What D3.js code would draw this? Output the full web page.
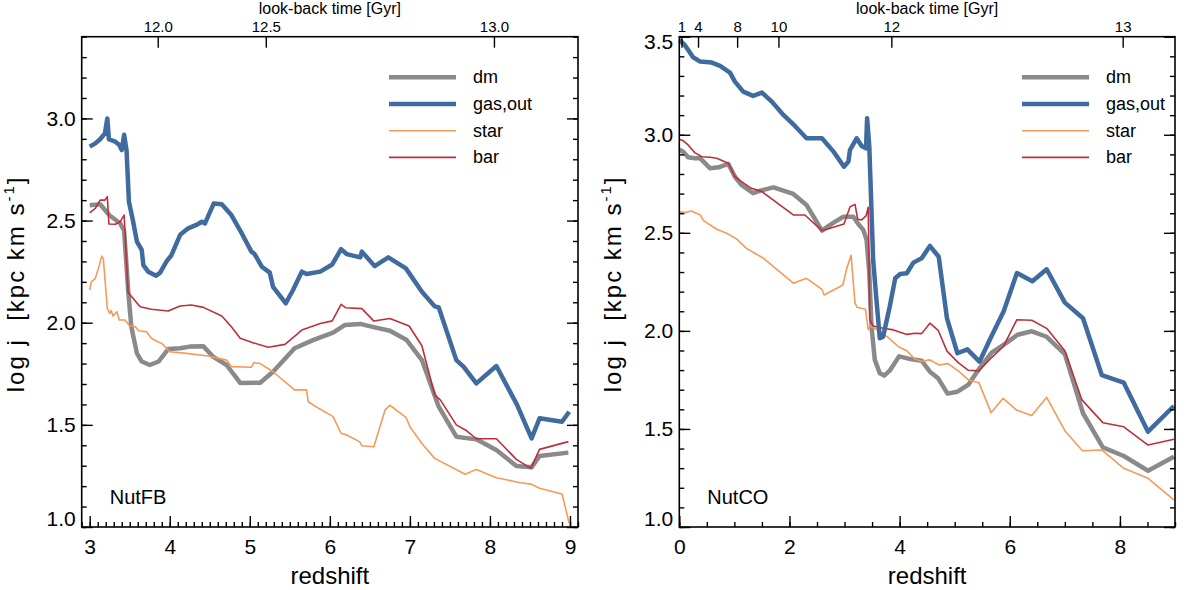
<!DOCTYPE html>
<html><head><meta charset="utf-8">
<script src="https://cdn.jsdelivr.net/npm/d3@7"></script>
<style>
html,body{margin:0;padding:0;background:#fff;}
svg text{font-family:"Liberation Sans",Arial,Helvetica,sans-serif;fill:#000;}
</style></head>
<body>
<svg id="chart" width="1186" height="590"></svg>
<script>
// ---------------- data ----------------
// NutFB panel: [redshift, log j]
const fbDm = [[3.0,2.575],[3.13,2.58],[3.25,2.525],[3.38,2.487],[3.43,2.45],[3.48,2.16],[3.52,1.98],[3.59,1.85],[3.65,1.81],[3.75,1.793],[3.86,1.81],[3.98,1.871],[4.13,1.875],[4.25,1.883],[4.42,1.885],[4.54,1.834],[4.71,1.793],[4.88,1.705],[5.13,1.706],[5.29,1.76],[5.56,1.875],[5.79,1.915],[6.04,1.951],[6.19,1.989],[6.38,1.994],[6.56,1.977],[6.75,1.961],[6.96,1.915],[7.15,1.817],[7.36,1.589],[7.58,1.442],[7.83,1.429],[8.08,1.377],[8.33,1.299],[8.52,1.292],[8.62,1.348],[8.98,1.364]];
const fbGas = [[3.0,2.862],[3.07,2.878],[3.13,2.898],[3.19,2.927],[3.22,3.0],[3.24,2.898],[3.32,2.886],[3.37,2.87],[3.40,2.845],[3.43,2.92],[3.46,2.845],[3.49,2.592],[3.54,2.50],[3.59,2.397],[3.65,2.356],[3.67,2.282],[3.73,2.25],[3.83,2.23],[3.88,2.245],[3.96,2.30],[4.02,2.33],[4.13,2.43],[4.23,2.462],[4.34,2.48],[4.40,2.494],[4.44,2.486],[4.55,2.584],[4.65,2.58],[4.77,2.527],[4.90,2.437],[5.02,2.348],[5.06,2.336],[5.15,2.274],[5.25,2.245],[5.29,2.176],[5.45,2.095],[5.54,2.16],[5.65,2.25],[5.71,2.238],[5.88,2.25],[6.03,2.285],[6.14,2.36],[6.21,2.336],[6.38,2.32],[6.40,2.348],[6.56,2.277],[6.73,2.32],[6.95,2.266],[7.15,2.152],[7.31,2.08],[7.36,2.075],[7.58,1.817],[7.67,1.785],[7.83,1.703],[8.08,1.788],[8.34,1.597],[8.52,1.434],[8.62,1.532],[8.90,1.515],[8.99,1.564]];
const fbStar = [[3.0,2.16],[3.02,2.20],[3.07,2.217],[3.11,2.266],[3.15,2.326],[3.17,2.315],[3.22,2.07],[3.25,2.046],[3.27,2.059],[3.29,2.033],[3.34,2.054],[3.37,2.013],[3.44,2.013],[3.50,1.984],[3.57,1.98],[3.61,1.961],[3.71,1.956],[3.77,1.924],[3.86,1.904],[3.90,1.899],[4.00,1.858],[4.21,1.85],[4.48,1.837],[4.71,1.817],[4.77,1.785],[5.02,1.782],[5.05,1.804],[5.13,1.80],[5.29,1.76],[5.56,1.671],[5.71,1.671],[5.73,1.613],[5.86,1.581],[6.04,1.54],[6.14,1.459],[6.21,1.45],[6.37,1.418],[6.40,1.398],[6.55,1.393],[6.69,1.573],[6.75,1.596],[6.95,1.537],[7.00,1.491],[7.15,1.409],[7.31,1.336],[7.69,1.258],[7.83,1.282],[8.08,1.241],[8.38,1.217],[8.51,1.21],[8.62,1.19],[8.90,1.162],[8.99,1.018]];
const fbBar = [[3.0,2.538],[3.07,2.56],[3.13,2.60],[3.19,2.60],[3.22,2.617],[3.24,2.483],[3.32,2.482],[3.38,2.494],[3.43,2.527],[3.48,2.148],[3.63,2.078],[3.77,2.066],[3.98,2.057],[4.13,2.082],[4.27,2.087],[4.42,2.075],[4.65,2.033],[4.77,1.98],[4.88,1.924],[5.04,1.902],[5.23,1.88],[5.44,1.894],[5.65,1.964],[5.88,1.996],[6.03,2.009],[6.14,2.09],[6.20,2.073],[6.40,2.069],[6.55,2.008],[6.75,2.021],[6.99,1.984],[7.15,1.887],[7.31,1.646],[7.38,1.622],[7.58,1.50],[7.71,1.471],[7.83,1.432],[8.08,1.432],[8.33,1.331],[8.51,1.287],[8.62,1.38],[8.98,1.418]];

// NutCO panel
const coDm = [[0,2.923],[0.07,2.914],[0.16,2.885],[0.28,2.88],[0.38,2.88],[0.56,2.829],[0.71,2.834],[0.89,2.851],[1.01,2.786],[1.13,2.744],[1.34,2.702],[1.47,2.715],[1.71,2.732],[2.07,2.698],[2.31,2.642],[2.59,2.511],[2.80,2.552],[2.98,2.582],[3.16,2.582],[3.25,2.545],[3.34,2.515],[3.40,2.464],[3.45,2.294],[3.49,2.02],[3.55,1.852],[3.64,1.784],[3.72,1.772],[3.82,1.797],[3.99,1.870],[4.22,1.855],[4.40,1.848],[4.55,1.792],[4.70,1.758],[4.87,1.68],[5.05,1.69],[5.25,1.726],[5.46,1.813],[5.67,1.889],[5.92,1.935],[6.14,1.98],[6.40,1.998],[6.67,1.97],[7.00,1.882],[7.33,1.58],[7.69,1.406],[8.07,1.362],[8.51,1.287],[8.98,1.358]];
const coGas = [[0,3.483],[0.10,3.458],[0.25,3.395],[0.38,3.373],[0.59,3.368],[0.74,3.351],[0.92,3.317],[1.01,3.271],[1.16,3.22],[1.34,3.198],[1.50,3.215],[1.68,3.169],[1.89,3.101],[2.10,3.045],[2.31,2.982],[2.59,2.982],[2.80,2.914],[2.99,2.837],[3.07,2.863],[3.10,2.923],[3.22,2.982],[3.31,2.943],[3.39,2.931],[3.41,3.084],[3.45,2.939],[3.52,2.36],[3.58,2.157],[3.64,1.962],[3.70,1.97],[3.82,2.123],[3.92,2.268],[4.01,2.29],[4.13,2.294],[4.25,2.348],[4.40,2.37],[4.55,2.433],[4.71,2.378],[4.86,2.064],[5.05,1.886],[5.23,1.906],[5.45,1.843],[5.65,1.962],[5.89,2.10],[6.13,2.295],[6.41,2.253],[6.67,2.314],[7.00,2.144],[7.33,2.064],[7.67,1.775],[8.07,1.736],[8.51,1.486],[8.98,1.617]];
const coStar = [[0,2.608],[0.10,2.603],[0.22,2.611],[0.38,2.591],[0.44,2.562],[0.68,2.518],[0.86,2.498],[1.04,2.469],[1.22,2.421],[1.37,2.396],[1.53,2.37],[2.07,2.243],[2.31,2.268],[2.59,2.212],[2.63,2.183],[2.97,2.234],[3.04,2.319],[3.12,2.385],[3.19,2.141],[3.23,2.12],[3.38,2.11],[3.43,2.006],[3.46,2.025],[3.58,2.008],[3.79,1.967],[3.98,1.919],[4.13,1.899],[4.28,1.855],[4.40,1.845],[4.55,1.852],[4.72,1.826],[4.88,1.833],[5.07,1.795],[5.25,1.75],[5.44,1.736],[5.66,1.583],[5.88,1.656],[6.13,1.595],[6.40,1.568],[6.67,1.661],[7.00,1.491],[7.32,1.389],[7.67,1.393],[8.07,1.299],[8.51,1.248],[8.98,1.138]];
const coBar = [[0,2.977],[0.07,2.97],[0.16,2.948],[0.28,2.909],[0.41,2.888],[0.56,2.885],[0.68,2.88],[0.89,2.855],[1.01,2.786],[1.13,2.761],[1.31,2.727],[1.50,2.71],[2.07,2.591],[2.28,2.591],[2.59,2.511],[2.99,2.545],[3.10,2.633],[3.19,2.645],[3.24,2.569],[3.31,2.566],[3.39,2.586],[3.43,2.63],[3.46,2.056],[3.52,2.025],[3.70,2.013],[3.89,2.005],[4.13,1.982],[4.28,1.988],[4.40,1.986],[4.55,2.039],[4.70,2.003],[4.86,1.897],[5.07,1.837],[5.25,1.799],[5.44,1.796],[5.67,1.864],[5.88,1.919],[6.13,2.057],[6.40,2.054],[6.67,2.013],[7.00,1.899],[7.31,1.648],[7.69,1.532],[8.07,1.511],[8.51,1.418],[8.98,1.447]];

// axes / labels
const legendNames = ["dm","gas,out","star","bar"];
const fbTopLabels = ["12.0","12.5","13.0"];
const fbTopZ = [3.85,5.2,8.05];
const coTopLabels = ["1","4","8","10","12","13"];
const coTopZ = [0.04,0.34,1.05,1.80,3.85,8.05];
const fbXTicks = [3,4,5,6,7,8,9];
const coXTicks = [0,2,4,6,8];
const fbYTicks = [1.0,1.5,2.0,2.5,3.0];
const coYTicks = [1.0,1.5,2.0,2.5,3.0,3.5];

// ---------------- drawing ----------------
const svg = d3.select("#chart");
const styles = {
  dm:   {color:"#8a8a8a", width:4.5},
  gas:  {color:"#3f6b9e", width:4.5},
  star: {color:"#f59a58", width:1.6},
  bar:  {color:"#bd2f3a", width:1.6}
};
const legendKeys = ["dm","gas","star","bar"];

function panel(opt){
  const g = svg.append("g");
  const x = d3.scaleLinear().domain(opt.xDomain).range([opt.left, opt.right]);
  const y = d3.scaleLinear().domain(opt.yDomain).range([opt.bottom, opt.top]);

  // lines
  const line = d3.line().x(d=>x(d[0])).y(d=>y(d[1])).curve(d3.curveLinear);
  const order = ["dm","star","bar","gas"];
  order.forEach(k=>{
    g.append("path").datum(opt.series[k]).attr("d",line)
      .attr("fill","none").attr("stroke",styles[k].color)
      .attr("stroke-width",styles[k].width).attr("stroke-linejoin","round");
  });

  // frame
  g.append("rect").attr("x",opt.left).attr("y",opt.top)
    .attr("width",opt.right-opt.left).attr("height",opt.bottom-opt.top)
    .attr("fill","none").attr("stroke","#000").attr("stroke-width",1.6);

  // bottom axis
  const bx = d3.axisBottom(x).tickValues(opt.xTicks).tickSize(-11).tickPadding(12)
    .tickFormat(d3.format("d"));
  const bAx = g.append("g").attr("transform",`translate(0,${opt.bottom})`).call(bx);
  g.append("g").attr("transform",`translate(0,${opt.bottom})`)
    .call(d3.axisBottom(x).tickValues(d3.range(opt.xMinor[0], opt.xMinor[1]+1e-9, opt.xMinor[2])).tickSize(-5).tickFormat(""));
  // left axis
  const ly = d3.axisLeft(y).tickValues(opt.yTicks).tickSize(-11).tickPadding(6)
    .tickFormat(d3.format(".1f"));
  const lAx = g.append("g").attr("transform",`translate(${opt.left},0)`).call(ly);
  const yMinorVals = d3.range(10,35.01,1).map(v=>v/10).filter(v=>v<=opt.yDomain[1]+1e-9);
  g.append("g").attr("transform",`translate(${opt.left},0)`)
    .call(d3.axisLeft(y).tickValues(yMinorVals).tickSize(-5).tickFormat(""));
  // right axis mirror
  g.append("g").attr("transform",`translate(${opt.right},0)`)
    .call(d3.axisRight(y).tickValues(opt.yTicks).tickSize(-11).tickFormat(""));
  g.append("g").attr("transform",`translate(${opt.right},0)`)
    .call(d3.axisRight(y).tickValues(yMinorVals).tickSize(-5).tickFormat(""));
  // top axis (look-back time)
  const tAx = g.append("g").attr("transform",`translate(0,${opt.top})`)
    .call(d3.axisTop(x).tickValues(opt.topZ).tickSize(-11).tickPadding(5)
      .tickFormat((d,i)=>opt.topLabels[i]));

  g.selectAll(".domain").remove();
  g.selectAll(".tick line").attr("stroke","#000").attr("stroke-width",1.4);
  bAx.selectAll("text").attr("font-size",21).attr("fill","#000");
  lAx.selectAll("text").attr("font-size",21).attr("fill","#000")
    .attr("dy",d=> d===opt.yDomain[0] ? "-0.05em" : (d===opt.yDomain[1] ? "0.55em" : "0.32em"));
  tAx.selectAll("text").attr("font-size",15).attr("fill","#000");

  // titles
  g.append("text").attr("x",(opt.left+opt.right)/2).attr("y",14)
    .attr("text-anchor","middle").attr("font-size",16).text("look-back time [Gyr]");
  g.append("text").attr("x",(opt.left+opt.right)/2).attr("y",584)
    .attr("text-anchor","middle").attr("font-size",24).text("redshift");
  const yt = g.append("text")
    .attr("transform",`translate(${opt.left-58},${(opt.top+opt.bottom)/2 + 2}) rotate(-90)`)
    .attr("text-anchor","middle").attr("font-size",24)
    .attr("letter-spacing","2px").style("white-space","pre");
  yt.append("tspan").text("log j  [kpc km s");
  yt.append("tspan").attr("font-size",15).attr("dy",-10).text("-1");
  yt.append("tspan").attr("dy",10).text("]");

  // panel label
  g.append("text").attr("x",opt.left+28).attr("y",opt.bottom-23)
    .attr("font-size",20).text(opt.name);

  // legend
  const lg = g.append("g");
  legendKeys.forEach((k,i)=>{
    const yy = 77.3 + i*26.7;
    lg.append("line").attr("x1",opt.legX).attr("x2",opt.legX+67)
      .attr("y1",yy).attr("y2",yy)
      .attr("stroke",styles[k].color).attr("stroke-width",styles[k].width);
    lg.append("text").attr("x",opt.legX+84).attr("y",yy+6)
      .attr("font-size",18).text(legendNames[i]);
  });
}

panel({
  name:"NutFB", left:81.7, right:578, top:36.7, bottom:527,
  xDomain:[2.9,9.1], yDomain:[1.0,3.4],
  xTicks:fbXTicks, xMinor:[2.9,9.1,0.1], yTicks:fbYTicks,
  topZ:fbTopZ, topLabels:fbTopLabels, legX:389,
  series:{dm:fbDm, gas:fbGas, star:fbStar, bar:fbBar}
});
panel({
  name:"NutCO", left:679.3, right:1175, top:36.7, bottom:527,
  xDomain:[0,9], yDomain:[1.0,3.5],
  xTicks:coXTicks, xMinor:[0,9,0.5], yTicks:coYTicks,
  topZ:coTopZ, topLabels:coTopLabels, legX:1022,
  series:{dm:coDm, gas:coGas, star:coStar, bar:coBar}
});
</script>
</body></html>
